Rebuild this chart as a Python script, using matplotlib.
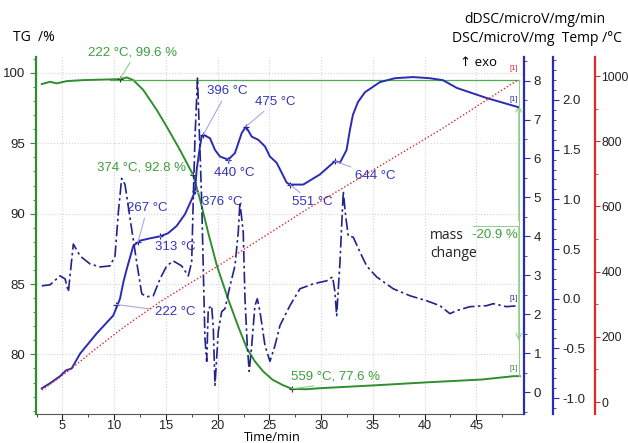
import matplotlib.pyplot as plt
from matplotlib.ticker import MultipleLocator

plt.rcParams['font.family'] = ['Liberation Sans', 'DejaVu Sans']

# TG curve: time / min, mass / %
tg_time = [3.0, 3.8, 4.44, 5.41, 7.01, 9.59, 10.56, 11.21, 11.85, 12.81,
           14.11, 15.07, 16.3, 17.61, 18.29, 19.1, 19.93, 21.0, 22.0, 22.83,
           23.6, 24.38, 25.3, 26.31, 27.18, 28.5, 30.0, 35.2, 40.4, 45.5,
           48.6, 49.2]
tg_mass = [99.21, 99.37, 99.26, 99.42, 99.49, 99.54, 99.56, 99.68, 99.49, 98.79,
           97.37, 96.19, 94.6, 92.78, 91.02, 88.6, 86.29, 83.95, 81.95, 80.42,
           79.5, 78.8, 78.2, 77.81, 77.55, 77.52, 77.6, 77.8, 78.02, 78.21,
           78.45, 78.45]

# DSC curve (microV/mg)
dsc_time = [3.00, 3.80, 4.76, 5.34, 5.89, 6.70, 8.31, 9.91, 10.56, 10.88,
            11.21, 11.85, 12.49, 13.46, 14.42, 15.2, 16.04, 16.84, 17.49, 17.81,
            17.97, 18.29, 18.45, 18.61, 19.26, 19.74, 20.22, 21.02, 21.67, 22.32,
            22.73, 23.29, 23.92, 24.57, 25.05, 25.70, 26.67, 26.99, 28.27, 29.88,
            31.33, 31.82, 32.46, 32.78, 33.07, 33.56, 34.23, 35.68, 37.13, 38.87,
            40.51, 41.77, 43.12, 46.02, 49.02]
dsc_val = [0.10, 0.23, 0.41, 0.56, 0.61, 0.99, 1.51, 1.97, 2.40, 2.82,
           3.16, 3.76, 3.89, 3.95, 4.00, 4.08, 4.27, 4.57, 4.95, 5.16,
           5.71, 6.31, 6.56, 6.61, 6.52, 6.22, 6.05, 5.97, 6.14, 6.65,
           6.82, 6.56, 6.48, 6.31, 6.05, 5.89, 5.38, 5.33, 5.33, 5.59,
           5.93, 5.89, 6.22, 6.73, 7.12, 7.45, 7.70, 7.96, 8.06, 8.09,
           8.06, 8.01, 7.81, 7.55, 7.32]

# dDSC curve (microV/mg/min)
ddsc_time = [3.00, 3.80, 4.76, 5.25, 5.57, 6.05, 6.70, 7.66, 8.63, 9.59,
             10.08, 10.40, 10.72, 11.04, 11.69, 12.17, 12.66, 13.14, 13.78, 14.43,
             15.07, 15.71, 16.52, 17.16, 17.49, 17.64, 17.81, 18.05, 18.45, 18.77,
             18.94, 19.09, 19.42, 19.58, 19.74, 20.06, 20.39, 20.71, 21.19, 21.67,
             21.99, 22.15, 22.47, 22.64, 22.86, 23.05, 23.29, 23.60, 23.83, 24.09,
             24.57, 25.05, 25.54, 26.02, 26.98, 27.95, 29.24, 30.53, 31.11, 31.33,
             31.50, 31.82, 32.14, 32.35, 32.62, 33.10, 33.75, 34.40, 35.36, 36.97,
             38.58, 40.19, 41.48, 42.44, 43.09, 44.38, 45.99, 46.63, 47.92, 49.04]
ddsc_val = [0.13, 0.14, 0.23, 0.20, 0.07, 0.55, 0.43, 0.35, 0.32, 0.33,
            0.43, 0.87, 1.21, 1.15, 0.70, 0.37, 0.05, 0.02, 0.03, 0.20,
            0.33, 0.38, 0.33, 0.23, 0.37, 1.00, 1.63, 2.22, 1.00, -0.40,
            -0.63, -0.10, -0.07, -0.30, -0.87, -0.33, -0.13, -0.10, 0.13, 0.33,
            0.67, 0.97, 0.67, 0.00, -0.47, -0.73, -0.47, -0.07, 0.00, -0.13,
            -0.47, -0.63, -0.47, -0.27, -0.07, 0.10, 0.15, 0.18, 0.22, 0.07,
            -0.17, 0.37, 1.08, 0.85, 0.63, 0.62, 0.47, 0.33, 0.22, 0.10,
            0.03, -0.02, -0.07, -0.15, -0.12, -0.08, -0.07, -0.05, -0.08, -0.07]

# furnace temperature
temp_time = [3.0, 4.5, 5.9, 8.0, 10.85, 14.4, 20.0, 28.6, 33.5, 41.5, 49.0]
temp_val = [37, 70, 104, 158, 228, 307, 417, 591, 683, 835, 988]

# DSC peak labels and where they sit on the DSC curve
peak_labels = ['222 °C', '267 °C', '313 °C', '376 °C', '396 °C',
               '440 °C', '475 °C', '551 °C', '644 °C']
peak_t = [10.2, 12.3, 14.42, 17.81, 18.61, 21.02, 22.73, 26.99, 31.33]
peak_dsc = [2.25, 3.85, 4.00, 5.16, 6.61, 5.97, 6.82, 5.33, 5.93]

# TG step labels
tg_labels = ['222 °C, 99.6 %', '374 °C, 92.8 %', '559 °C, 77.6 %']
tg_label_t = [10.56, 17.61, 27.18]
tg_label_mass = [99.56, 92.78, 77.55]
mass_change = '-20.9 %'

green = '#2f8f2f'
green_lt = '#8fcf8f'
blue = '#2b2bb3'
navy = '#23238c'
red = '#e02828'
blue_txt = '#3434bb'
green_txt = '#3b9f3b'

fig = plt.figure(figsize=(6.28, 4.43), dpi=100)
ax = fig.add_axes([0.0573, 0.0654, 0.777, 0.8055])
ax_dsc = ax.twinx()
ax_ddsc = ax.twinx()
ax_temp = ax.twinx()

ax.set_xlim(2.44, 49.6)
ax.set_ylim(75.76, 101.12)
ax_dsc.set_ylim(-0.56, 8.6)
ax_ddsc.set_ylim(-1.16, 2.43)
ax_temp.set_ylim(-36.6, 1058)

# grid
ax.grid(True, color='#d4d4d4', linestyle=':', linewidth=0.8)
ax.set_axisbelow(True)

# curves
ax_temp.plot(temp_time, temp_val, color=red, linestyle=(0, (1, 1.5)), linewidth=1.0)
ax.plot(tg_time, tg_mass, color=green, linewidth=1.4)
ax_ddsc.plot(ddsc_time, ddsc_val, color=navy, linewidth=1.2,
             linestyle=(0, (7, 2, 1.5, 2)))
ax_dsc.plot(dsc_time, dsc_val, color=blue, linewidth=1.4)

# mass change reference + arrow
ax.plot([9.6, 49.1], [99.5, 99.5], color='#4caf4c', linewidth=0.9)
ax.plot([49.1, 49.1], [99.5, 78.45], color=green_lt, linewidth=0.8)
ax.annotate('', xy=(49.1, 97.9), xytext=(49.1, 89.3),
            arrowprops=dict(arrowstyle='->', color=green_lt, lw=0.8))
ax.annotate('', xy=(49.1, 80.8), xytext=(49.1, 89.3),
            arrowprops=dict(arrowstyle='->', color=green_lt, lw=0.8))
ax.plot([44.7, 49.1], [89.15, 89.15], color=green_lt, linewidth=0.7)
ax.text(49.05, 88.5, mass_change, color=green_txt, fontsize=9.5,
        ha='right', va='center')
ax.text(40.5, 87.8, 'mass\nchange', color='#222222', fontsize=10,
        family=['Open Sans', 'DejaVu Sans'], ha='left', va='center',
        linespacing=1.25)

# peak annotations on the DSC curve
peak_text_pos = [(13.96, 83.0), (11.24, 90.4), (13.96, 87.6), (18.48, 90.8),
                 (18.97, 98.7), (19.64, 92.9), (23.6, 97.95), (27.18, 90.8),
                 (33.27, 92.7)]
for lab, t, d, pos in zip(peak_labels, peak_t, peak_dsc, peak_text_pos):
    ax_dsc.annotate(lab, xy=(t, d), xytext=pos, textcoords=ax.transData,
                    color=blue_txt, fontsize=9.5, ha='left', va='center',
                    arrowprops=dict(arrowstyle='-', color='#a8a8e0', lw=0.8,
                                    shrinkA=1, shrinkB=0))
ax_dsc.plot(peak_t, peak_dsc, linestyle='none', marker='+', color=navy,
            markersize=5, markeredgewidth=0.8)

tg_text_pos = [(7.47, 101.47), (8.34, 93.3), (27.08, 78.4)]
for lab, t, m, pos in zip(tg_labels, tg_label_t, tg_label_mass, tg_text_pos):
    ax.annotate(lab, xy=(t, m), xytext=pos, color=green_txt, fontsize=9.5,
                ha='left', va='center', annotation_clip=False,
                arrowprops=dict(arrowstyle='-', color=green_lt, lw=0.8,
                                shrinkA=1, shrinkB=0, relpos=(0.5, 0)))
ax.plot(tg_label_t, tg_label_mass, linestyle='none', marker='+', color='#333333',
        markersize=5, markeredgewidth=0.8)

# [1] end markers
ax.text(48.6, 78.75, '[1]', color=green, fontsize=5.5, ha='center', va='bottom')
ax_dsc.text(48.6, 7.42, '[1]', color=blue, fontsize=5.5, ha='center', va='bottom')
ax_ddsc.text(48.6, -0.03, '[1]', color=blue, fontsize=5.5, ha='center', va='bottom')
ax_temp.text(48.6, 1012, '[1]', color=red, fontsize=5.5, ha='center', va='bottom')

# spines and ticks
ax.spines['top'].set_visible(False)
ax.spines['right'].set_visible(False)
ax.spines['left'].set_color(green)
ax.spines['left'].set_linewidth(1.6)
ax.spines['bottom'].set_color('#555555')
for a in (ax_dsc, ax_ddsc, ax_temp):
    for s in ('left', 'top', 'bottom'):
        a.spines[s].set_visible(False)
ax_ddsc.spines['right'].set_position(('axes', 1.0594))
ax_temp.spines['right'].set_position(('axes', 1.1455))
ax_dsc.spines['right'].set_color(blue)
ax_ddsc.spines['right'].set_color(blue)
ax_temp.spines['right'].set_color(red)
for a in (ax_dsc, ax_ddsc, ax_temp):
    a.spines['right'].set_linewidth(1.6)

ax.set_xticks([5, 10, 15, 20, 25, 30, 35, 40, 45])
ax.xaxis.set_minor_locator(MultipleLocator(2.5))
ax.yaxis.set_major_locator(MultipleLocator(5))
ax.yaxis.set_minor_locator(MultipleLocator(1))
ax_dsc.yaxis.set_major_locator(MultipleLocator(1))
ax_dsc.yaxis.set_minor_locator(MultipleLocator(0.5))
ax_ddsc.set_yticks([-1.0, -0.5, 0.0, 0.5, 1.0, 1.5, 2.0])
ax_ddsc.yaxis.set_minor_locator(MultipleLocator(0.1))
ax_ddsc.yaxis.set_major_formatter(plt.FormatStrFormatter('%.1f'))
ax_temp.set_yticks([0, 200, 400, 600, 800, 1000])
ax_temp.yaxis.set_minor_locator(MultipleLocator(100))

ax.tick_params(axis='both', which='both', labelsize=9.5, colors='#222222')
ax.tick_params(axis='y', which='both', color=green)
ax.tick_params(axis='x', which='major', length=4, pad=0.5, labelsize=9.2)
ax.tick_params(axis='x', which='minor', length=2.5)
ax.tick_params(axis='y', which='major', length=4)
ax.tick_params(axis='y', which='minor', length=2.5)
for a, c in ((ax_dsc, blue), (ax_ddsc, blue), (ax_temp, red)):
    a.tick_params(axis='y', which='both', labelsize=9.5, color=c, labelcolor='#222222')
    a.tick_params(axis='y', which='major', length=4, pad=3)
    a.tick_params(axis='y', which='minor', length=2.5)
ax_temp.tick_params(axis='y', which='major', labelsize=8.8, length=3.5, pad=1.2)

# axis titles
fig.text(0.02, 0.916, 'TG  /%', fontsize=10, family=['Open Sans', 'DejaVu Sans'],
         ha='left', va='center')
fig.text(0.852, 0.955, 'dDSC/microV/mg/min', fontsize=10,
         family=['Open Sans', 'DejaVu Sans'], ha='center', va='center')
fig.text(0.991, 0.914, 'DSC/microV/mg  Temp /°C', fontsize=10,
         family=['Open Sans', 'DejaVu Sans'], ha='right', va='center')
fig.text(0.733, 0.858, '↑ exo', fontsize=9.5, family=['Open Sans', 'DejaVu Sans'],
         ha='left', va='center')
fig.text(0.433, 0.0045, 'Time/min', fontsize=9.2, family=['Open Sans', 'DejaVu Sans'],
         ha='center', va='baseline')

fig.savefig('out.png', dpi=100)
